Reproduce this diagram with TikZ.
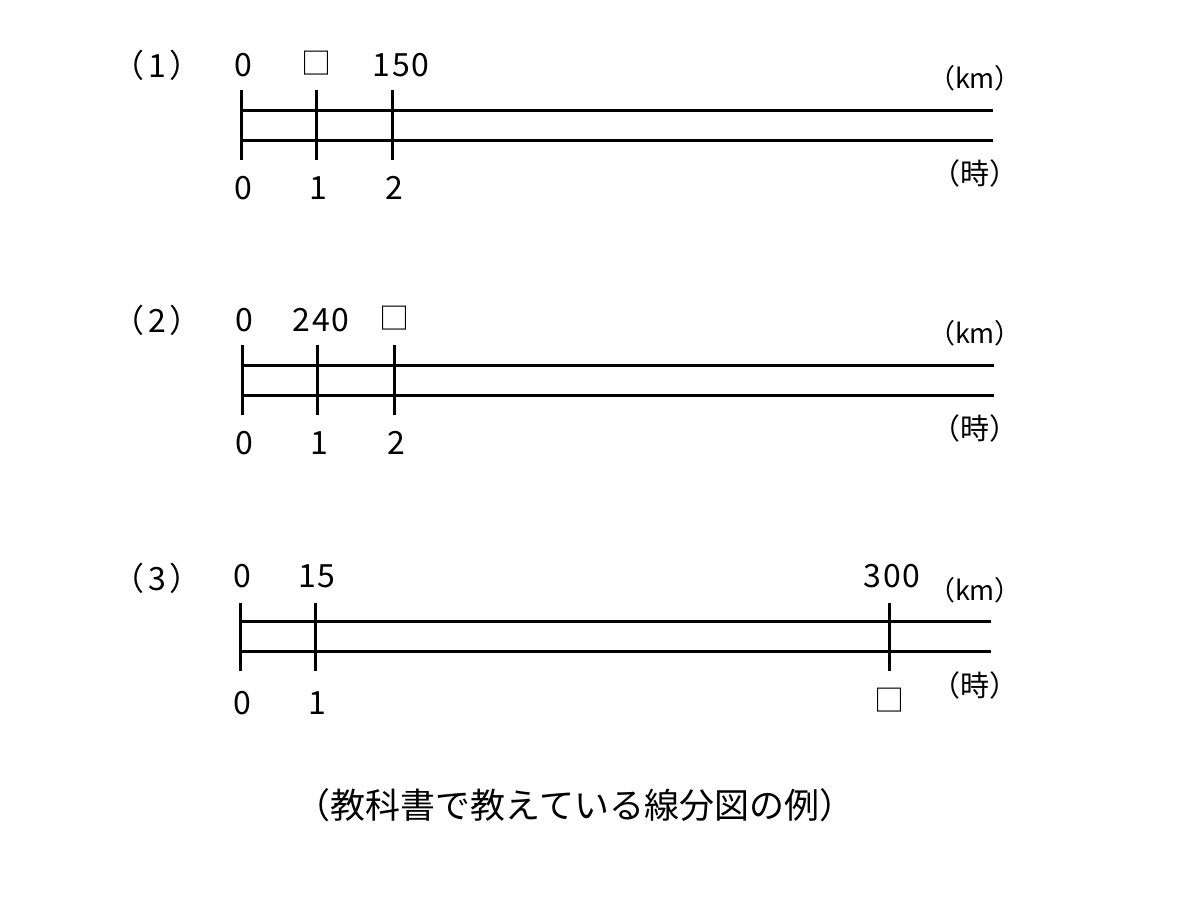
\documentclass[tikz,border=0pt]{standalone}
\usepackage{fontspec}
\setmainfont{Noto Sans CJK JP}
\begin{document}
\begin{tikzpicture}[x=1pt,y=-1pt,
  bar/.style={line width=3pt},
  num/.style={inner sep=0pt,font=\fontsize{32}{36}\selectfont\addfontfeature{LetterSpace=6}},
  sq/.style={inner sep=0pt,font=\fontsize{30}{34}\selectfont},
  unitlbl/.style={inner sep=0pt,font=\fontsize{27}{30}\selectfont},
  jilbl/.style={inner sep=0pt,font=\fontsize{29}{32}\selectfont},
  captxt/.style={inner sep=0pt,font=\fontsize{35}{38}\selectfont}]
\useasboundingbox (0,0) rectangle (1200,900);
% ---------- (1)
\node[num] (p1) at (157,65) {（\kern4pt 1\kern4pt）};
\node[num] (a0) at (243,65) {0};
\node[sq] (aq) at (316,63) {□};
\node[num] (a150) at (401,65) {150};
\node[unitlbl] (akm) at (975,78) {（km）};
\node[jilbl] (aji) at (975,173) {（時）};
\node[num] (b0) at (243,188) {0};
\node[num] (b1) at (318,188) {1};
\node[num] (b2) at (394,188) {2};
\draw[bar] (241,110) -- (993,110);
\draw[bar] (241,140) -- (993,140);
\foreach \x in {241,316,392} \draw[bar] (\x,90) -- (\x,160);
% ---------- (2)
\node[num] (p2) at (157,320) {（\kern4pt 2\kern4pt）};
\node[num] (c0) at (244,320) {0};
\node[num] (c240) at (321,320) {240};
\node[sq] (cq) at (394,318) {□};
\node[unitlbl] (ckm) at (975,333) {（km）};
\node[jilbl] (cji) at (975,428) {（時）};
\node[num] (d0) at (244,443) {0};
\node[num] (d1) at (319,443) {1};
\node[num] (d2) at (396,443) {2};
\draw[bar] (242,365) -- (994,365);
\draw[bar] (242,395) -- (994,395);
\foreach \x in {242,317,394} \draw[bar] (\x,345) -- (\x,415);
% ---------- (3)
\node[num] (p3) at (157,578) {（\kern4pt 3\kern4pt）};
\node[num] (e0) at (242,576) {0};
\node[num] (e15) at (317,576) {15};
\node[num] (e300) at (892,576) {300};
\node[unitlbl] (ekm) at (975,590) {（km）};
\node[jilbl] (eji) at (975,685) {（時）};
\node[num] (f0) at (242,703) {0};
\node[num] (f1) at (317,703) {1};
\node[sq] (fq) at (889,700) {□};
\draw[bar] (240,621) -- (991,621);
\draw[bar] (240,651) -- (991,651);
\foreach \x in {240,315,889} \draw[bar] (\x,603) -- (\x,671);
% ---------- caption
\node[captxt] (caption) at (575,805) {（教科書で教えている線分図の例）};
\end{tikzpicture}
\end{document}
